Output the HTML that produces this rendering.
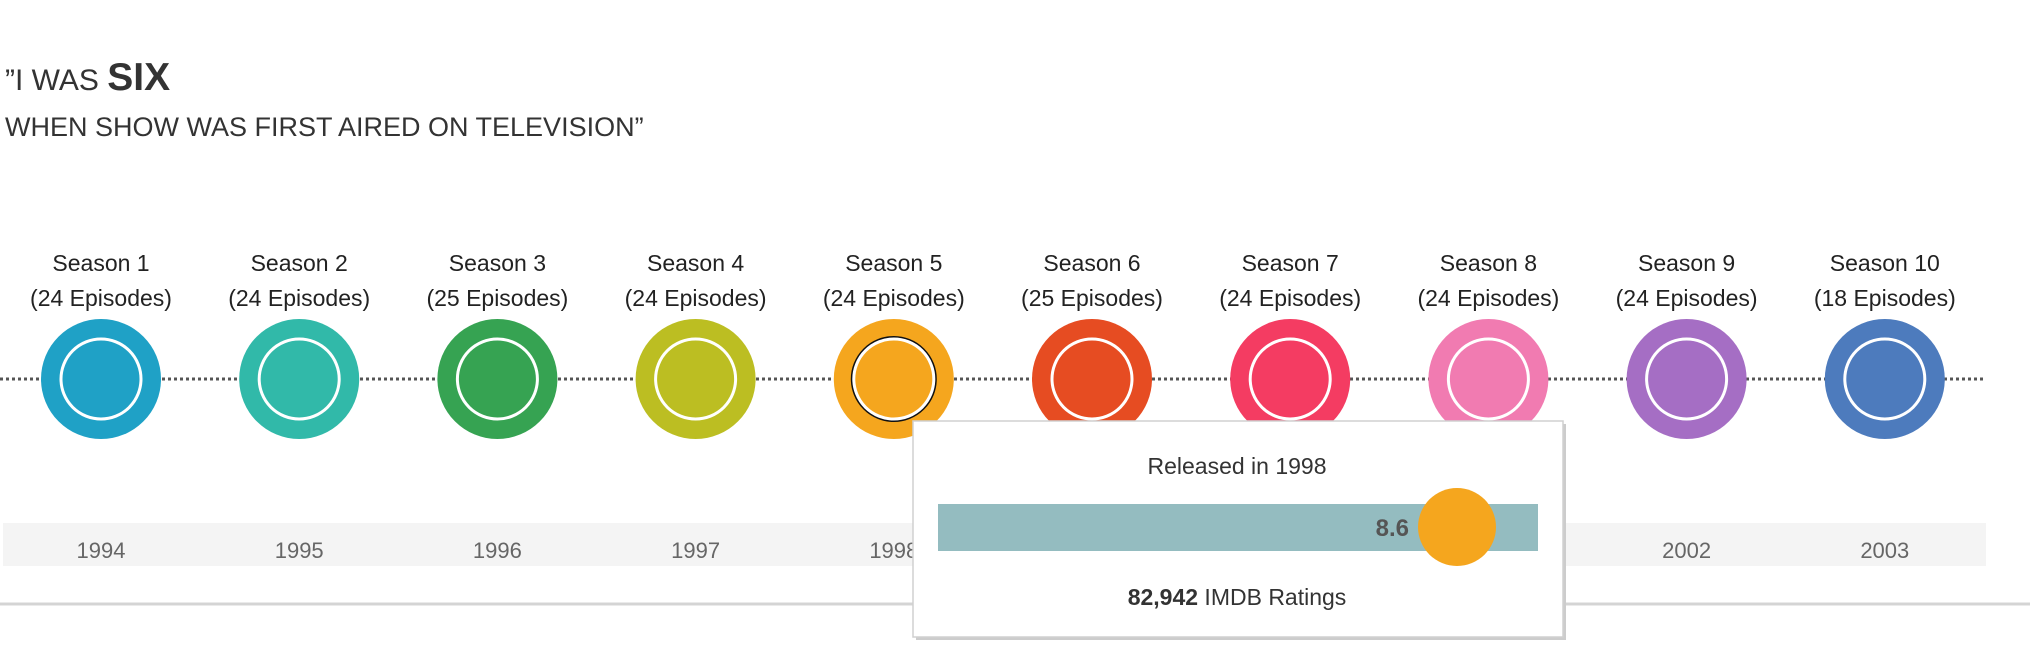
<!DOCTYPE html>
<html><head><meta charset="utf-8"><style>
body{margin:0;background:#fff;width:2030px;height:654px;overflow:hidden;font-family:"Liberation Sans",sans-serif}
svg{display:block}
</style></head><body>
<svg id="c" width="2030" height="654">
<text x="5" y="90" fill="#333" font-size="30">”I WAS <tspan font-size="39" font-weight="bold">SIX</tspan></text>
<text x="5" y="136" fill="#333" font-size="27">WHEN SHOW WAS FIRST AIRED ON TELEVISION”</text>
<rect x="3" y="523" width="1983" height="43" fill="#f4f4f4"/>
<line x1="0" y1="379" x2="1985" y2="379" stroke="#555" stroke-width="3" stroke-dasharray="3,3"/>
<line x1="0" y1="604" x2="2030" y2="604" stroke="#d4d4d4" stroke-width="3"/>
<g id="marks"></g>
</svg>
<script>
const seasons=["Season 1","Season 2","Season 3","Season 4","Season 5","Season 6","Season 7","Season 8","Season 9","Season 10"];
const episodes=[24,24,25,24,24,25,24,24,24,18];
const years=[1994,1995,1996,1997,1998,1999,2000,2001,2002,2003];
const colors=["#1fa1c6","#31b9a9","#36a352","#bcbe22","#f5a61e","#e64c22","#f43c62","#f17bb1","#a56ec4","#4d7bbd"];
const selectedIndex=4;
const ratingValue=[8.6];
const ratingCount=["82,942"];
const NS="http://www.w3.org/2000/svg";
const g=document.getElementById('marks');
const xPos=i=>101+i*198.2;
function mk(t,a,p){const e=document.createElementNS(NS,t);for(const k in a)e.setAttribute(k,a[k]);(p||g).appendChild(e);return e;}
seasons.forEach((s,i)=>{
  const x=xPos(i);
  const t1=mk('text',{x:x,y:271,'text-anchor':'middle','font-size':23,fill:'#222'});t1.textContent=s;
  
  
  const t2=mk('text',{x:x,y:306,'text-anchor':'middle','font-size':23,fill:'#222'});t2.textContent='('+episodes[i]+' Episodes)';
  
  
  const c=mk('circle',{cx:x,cy:379,r:60,fill:colors[i]});
  
  
  if(i===selectedIndex){mk('circle',{cx:x,cy:379,r:42,fill:'none',stroke:'#111','stroke-width':2});}
  const r=mk('circle',{cx:x,cy:379,r:40,fill:'none',stroke:'#fff','stroke-width':3});
  
  
  const y=mk('text',{x:x,y:558,'text-anchor':'middle','font-size':22,fill:'#666'});y.textContent=years[i];
  
  
});
const tip=mk('g',{});


mk('rect',{x:916,y:424,width:650,height:216,fill:'#ccc'},tip);
mk('rect',{x:913,y:421,width:650,height:216,fill:'#fff',stroke:'#d0d0d0','stroke-width':1.5},tip);
const tt=mk('text',{x:1237,y:474,'text-anchor':'middle','font-size':23,fill:'#333'},tip);tt.textContent='Released in '+years[selectedIndex];


const barX0=938,barW=600;
const bar=mk('rect',{x:barX0,y:504,width:barW,height:47,fill:'#94bcc0'},tip);


const dotX=barX0+ratingValue[0]/10*barW*(519/516);
const dot=mk('circle',{cx:dotX,cy:527,r:39,fill:colors[selectedIndex]},tip);


const rv=mk('text',{x:dotX-48,y:536,'text-anchor':'end','font-size':24,'font-weight':'bold',fill:'#555'},tip);rv.textContent=ratingValue[0];


const rc=mk('text',{x:1237,y:605,'text-anchor':'middle','font-size':23,fill:'#333'},tip);
rc.innerHTML='<tspan font-weight="bold">'+ratingCount[0]+'</tspan> IMDB Ratings';


</script>
</body></html>
